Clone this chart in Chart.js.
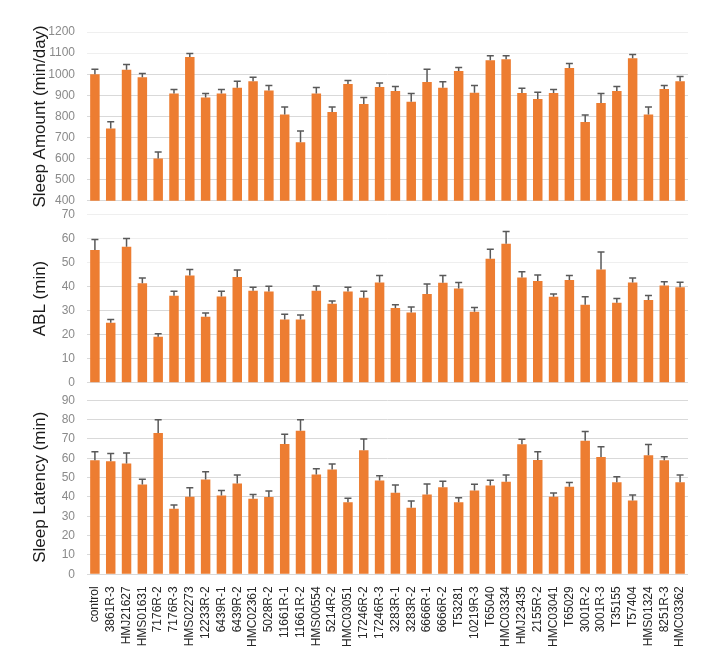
<!DOCTYPE html>
<html>
<head>
<meta charset="utf-8">
<script src="https://cdn.jsdelivr.net/npm/chart.js@4"></script>
<style>
  body { margin: 0; background: #fff; }
  #wrap { position: relative; width: 710px; height: 665px; }
  canvas { position: absolute; left: 0; }
</style>
</head>
<body>
<div id="wrap">
  <canvas id="c1" width="710" height="220" style="top:0"></canvas>
  <canvas id="c2" width="710" height="207" style="top:195px"></canvas>
  <canvas id="c3" width="710" height="270" style="top:381px"></canvas>
</div>
<script>
const strains = ["control", "3861R-3", "HMJ21627", "HMS01631", "7176R-2", "7176R-3", "HMS02273", "12233R-2",
  "6439R-1", "6439R-2", "HMC02361", "5028R-2", "11661R-1", "11661R-2", "HMS00554", "5214R-2", "HMC03051",
  "17246R-2", "17246R-3", "3283R-1", "3283R-2", "6666R-1", "6666R-2", "T53281", "10219R-3", "T65040",
  "HMC03334", "HMJ23435", "2155R-2", "HMC03041", "T65029", "3001R-2", "3001R-3", "T35155", "T57404",
  "HMS01324", "8251R-3", "HMC03362"];

// Sleep amount (min/day), mean and upper error
const sleepAmount = [1000, 743, 1021, 985, 601, 908, 1082, 889, 908, 936, 966, 923, 809, 677, 908, 821, 953,
  859, 939, 920, 870, 963, 936, 1015, 912, 1066, 1071, 911, 883, 911, 1029, 774, 864, 920, 1076, 809, 930, 967];
const sleepAmountErr = [23, 32, 25, 18, 30, 20, 16, 20, 20, 30, 19, 23, 36, 54, 29, 24, 17,
  30, 19, 22, 38, 60, 28, 17, 34, 21, 17, 23, 31, 17, 22, 33, 44, 22, 17, 36, 16, 22];

// ABL (min)
const abl = [55.1, 24.9, 56.5, 41.3, 19.1, 36.1, 44.5, 27.4, 35.8, 43.9, 38.2, 37.9, 26.3, 26.3, 38.2, 32.8, 37.9,
  35.3, 41.6, 31.1, 29.2, 36.9, 41.5, 39.1, 29.5, 51.5, 57.7, 43.7, 42.3, 35.7, 42.7, 32.4, 47.0, 33.2, 41.6, 34.4, 40.4, 39.7];
const ablErr = [4.4, 1.4, 3.4, 2.2, 1.3, 1.9, 2.5, 1.6, 2.2, 2.9, 1.5, 2.2, 2.2, 1.9, 2.0, 1.2, 1.8,
  2.7, 3.0, 1.3, 2.3, 4.1, 3.1, 2.5, 1.8, 3.9, 5.1, 2.4, 2.5, 1.2, 1.9, 3.3, 7.3, 1.8, 1.9, 1.8, 1.6, 2.0];

// Sleep latency (min)
const latency = [58.9, 58.4, 57.3, 46.4, 73.1, 33.9, 40.1, 49.0, 40.7, 46.9, 39.1, 40.0, 67.4, 74.2, 51.6, 54.2, 37.2,
  64.1, 48.5, 42.2, 34.4, 41.3, 45.0, 37.2, 43.3, 45.9, 47.9, 67.2, 59.1, 40.1, 45.3, 69.0, 60.6, 47.6, 38.2, 61.5, 58.9, 47.6];
const latencyErr = [4.5, 4.0, 5.4, 2.8, 6.8, 1.9, 4.7, 4.0, 2.6, 4.4, 2.2, 3.1, 5.0, 5.7, 3.0, 2.8, 2.1,
  5.9, 2.4, 4.0, 3.5, 5.4, 3.1, 2.4, 3.3, 2.7, 3.4, 2.6, 4.3, 1.9, 2.1, 4.8, 5.4, 2.8, 2.8, 5.6, 1.9, 3.7];

const orange = "#ED7D31";

// upper error bars with a small cap
const errorBars = {
  id: "errorBars",
  afterDatasetsDraw(chart) {
    const ds = chart.data.datasets[0];
    const meta = chart.getDatasetMeta(0);
    const y = chart.scales.y;
    const ctx = chart.ctx;
    ctx.save();
    ctx.strokeStyle = "#595959";
    ctx.lineWidth = 1.5;
    meta.data.forEach((bar, i) => {
      const top = y.getPixelForValue(ds.data[i] + ds.errors[i]);
      const base = y.getPixelForValue(ds.data[i]);
      ctx.beginPath();
      ctx.moveTo(bar.x, base);
      ctx.lineTo(bar.x, top);
      ctx.moveTo(bar.x - 3.5, top);
      ctx.lineTo(bar.x + 3.5, top);
      ctx.stroke();
    });
    ctx.restore();
  }
};

function makeChart(id, values, errors, title, min, max, step, fadeFrom, showX, padding) {
  return new Chart(document.getElementById(id), {
    type: "bar",
    data: {
      labels: strains,
      datasets: [{ data: values, errors: errors, backgroundColor: orange,
        barPercentage: 0.6, categoryPercentage: 1.0 }]
    },
    options: {
      responsive: false,
      animation: false,
      layout: { padding: padding },
      plugins: { legend: { display: false }, tooltip: { enabled: false } },
      scales: {
        x: {
          display: showX,
          grid: { display: false },
          border: { display: false },
          ticks: { autoSkip: false, maxRotation: 90, minRotation: 90, padding: 4,
            color: "#262626", font: { family: "Liberation Sans", size: 12 } }
        },
        y: {
          min: min, max: max,
          afterFit(scale) { scale.width = 57; },
          grid: {
            color: (c) => (c.tick && c.tick.value >= fadeFrom ? "#efefef" : "#d9d9d9"),
            drawTicks: false
          },
          border: { display: false },
          ticks: { stepSize: step, padding: 12, color: "#8a8a8a",
            callback: (v) => String(v),
            font: { family: "Liberation Sans", size: 12 } },
          title: { display: true, text: title, padding: 0, color: "#1a1a1a",
            font: { family: "Liberation Sans", size: 17 } }
        }
      }
    },
    plugins: [errorBars]
  });
}

makeChart("c1", sleepAmount, sleepAmountErr, "Sleep Amount (min/day)", 400, 1200, 100, 1100, false,
  { left: 30, right: 22, top: 32, bottom: 0 });
makeChart("c2", abl, ablErr, "ABL (min)", 0, 70, 10, 50, false,
  { left: 30, right: 22, top: 0, bottom: 0 });
makeChart("c3", latency, latencyErr, "Sleep Latency (min)", 0, 90, 10, 1000, true,
  { left: 30, right: 22, top: 0, bottom: 0 });
</script>
</body>
</html>
